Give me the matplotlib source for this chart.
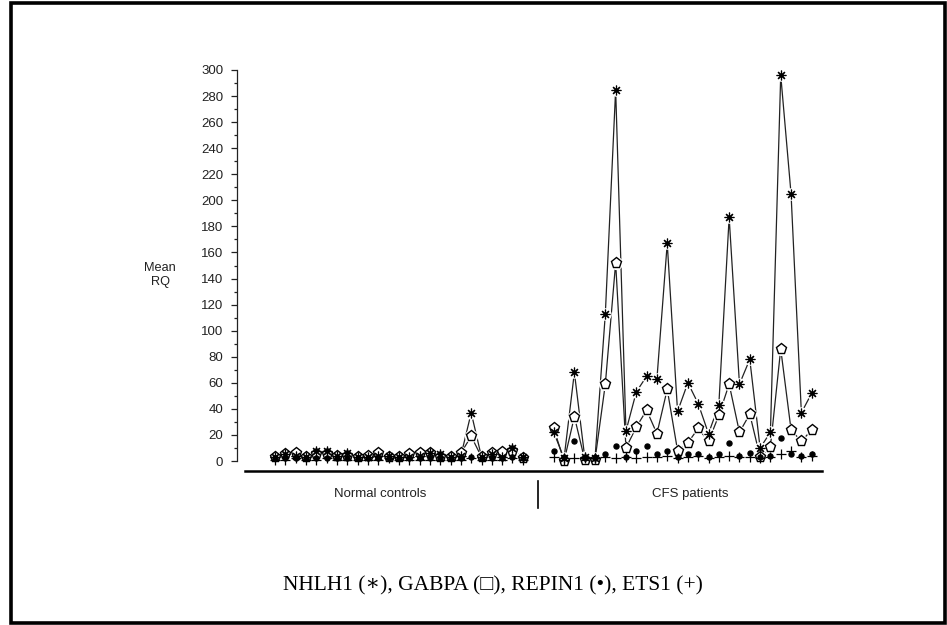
import matplotlib
matplotlib.use("Agg")
import matplotlib.pyplot as plt
from matplotlib.lines import Line2D
from matplotlib.patches import Rectangle
from matplotlib.ticker import MultipleLocator
import numpy as np

# ---- data ----
groups = ["Normal controls", "CFS patients"]
yticks = list(range(0, 301, 20))

normal_nhlh1 = [3, 5, 4, 3, 8, 8, 4, 6, 3, 3, 4, 4, 3, 3, 4, 6, 5, 3, 4, 37, 3, 5, 3, 10, 3]
normal_gabpa = [3, 5, 6, 3, 5, 5, 4, 4, 3, 4, 6, 3, 3, 5, 6, 6, 3, 3, 6, 19, 3, 6, 7, 8, 2]
normal_repin1 = [2, 2, 2, 2, 2, 2, 2, 2, 2, 2, 2, 2, 2, 2, 2, 2, 2, 2, 2, 3, 2, 2, 2, 3, 2]
normal_ets1 = [1, 1, 2, 1, 1, 2, 1, 1, 1, 1, 1, 2, 1, 1, 1, 1, 1, 1, 1, 2, 1, 1, 1, 2, 1]

cfs_nhlh1 = [22, 2, 68, 3, 2, 113, 285, 23, 53, 65, 63, 167, 38, 60, 44, 21, 43, 187, 59, 78, 10, 22, 296, 205, 37, 52]
cfs_gabpa = [25, 0, 34, 1, 1, 59, 152, 10, 26, 39, 21, 55, 8, 14, 25, 15, 35, 59, 22, 36, 3, 11, 86, 24, 15, 24]
cfs_repin1 = [8, 3, 15, 2, 2, 5, 11.5, 3, 8, 11.5, 5, 8, 3, 5, 5, 3, 5, 13.5, 4, 6, 3, 4, 17.5, 5, 3.5, 5]
cfs_ets1 = [3, 1, 2, 2, 2, 3, 2, 3, 2, 3, 3, 4, 2, 3, 4, 2, 3, 4, 3, 3, 2, 3, 5, 8, 3, 4]

caption = "NHLH1 (\u2217), GABPA (\u25a1), REPIN1 (\u2022), ETS1 (+)"

# ---- figure ----
W, H = 947, 625
fig = plt.figure(figsize=(W / 100, H / 100), dpi=100)

def fx(px):
    return px / W

def fy(py):
    return 1 - py / H

ax = fig.add_axes([fx(237), fy(461), fx(822) - fx(237), fy(70) - fy(461)])

gap = 2
x_norm = np.arange(len(normal_nhlh1))
x_cfs = np.arange(len(cfs_nhlh1)) + len(normal_nhlh1) + gap

line_col = "#222222"
for xs, nh, ga, re, et in [(x_norm, normal_nhlh1, normal_gabpa, normal_repin1, normal_ets1),
                           (x_cfs, cfs_nhlh1, cfs_gabpa, cfs_repin1, cfs_ets1)]:
    ax.plot(xs, nh, color=line_col, lw=0.9, zorder=1, clip_on=False)
    ax.plot(xs, ga, color=line_col, lw=0.9, zorder=1, clip_on=False)
    # white halos to create small gaps in lines around markers
    ax.plot(xs, nh, ls="none", marker="o", ms=9, mfc="white", mec="none", zorder=2, clip_on=False)
    ax.plot(xs, ga, ls="none", marker="o", ms=9.5, mfc="white", mec="none", zorder=2, clip_on=False)
    ax.plot(xs, ga, ls="none", marker="p", ms=8, mfc="white", mec="black", mew=1.0, zorder=3, clip_on=False)
    ax.plot(xs, nh, ls="none", marker=(8, 2, 0), ms=7, mec="black", mew=0.85, zorder=4, clip_on=False)
    ax.plot(xs, re, ls="none", marker="o", ms=3.6, mfc="black", mec="black", zorder=5, clip_on=False)
    ax.plot(xs, et, ls="none", marker="+", ms=7, mec="black", mew=0.9, zorder=5, clip_on=False)

ax.set_xlim(-3.7, 53)
ax.set_ylim(0, 300)
ax.set_yticks(yticks)
ax.yaxis.set_minor_locator(MultipleLocator(10))
ax.tick_params(axis="y", which="major", length=4, width=0.9, pad=6, labelsize=9.5,
               labelcolor="#222222", color="#222222")
ax.tick_params(axis="y", which="minor", length=2.5, width=0.9, color="#222222")
for t in ax.get_yticklabels():
    t.set_fontfamily("Liberation Sans")
ax.set_xticks([])
for s in ["top", "right", "bottom"]:
    ax.spines[s].set_visible(False)
ax.spines["left"].set_linewidth(0.9)
ax.spines["left"].set_color("#222222")
ax.patch.set_visible(False)

# category axis line and divider
fig.add_artist(Line2D([fx(245), fx(822)], [fy(471), fy(471)], color="black", lw=1.8))
fig.add_artist(Line2D([fx(538), fx(538)], [fy(481), fy(508)], color="black", lw=1.2))
fig.text(fx(380), fy(494), groups[0], ha="center", va="center", fontsize=9.5,
         family="Liberation Sans", color="#222222")
fig.text(fx(690), fy(494), groups[1], ha="center", va="center", fontsize=9.5,
         family="Liberation Sans", color="#222222")

# y label
fig.text(fx(160), fy(275), "Mean\nRQ", ha="center", va="center", fontsize=9.2,
         family="Liberation Sans", color="#222222", linespacing=1.2)

# caption
fig.text(fx(493), fy(586), caption, ha="center", va="center", fontsize=15.5,
         family=["Liberation Serif", "DejaVu Serif"], color="black")

# outer frame
fig.add_artist(Rectangle((fx(10.5), fy(623)), fx(945) - fx(10.5), fy(2.5) - fy(623),
                         fill=False, edgecolor="black", lw=2.6, transform=fig.transFigure))

fig.savefig("out.png", dpi=100)
